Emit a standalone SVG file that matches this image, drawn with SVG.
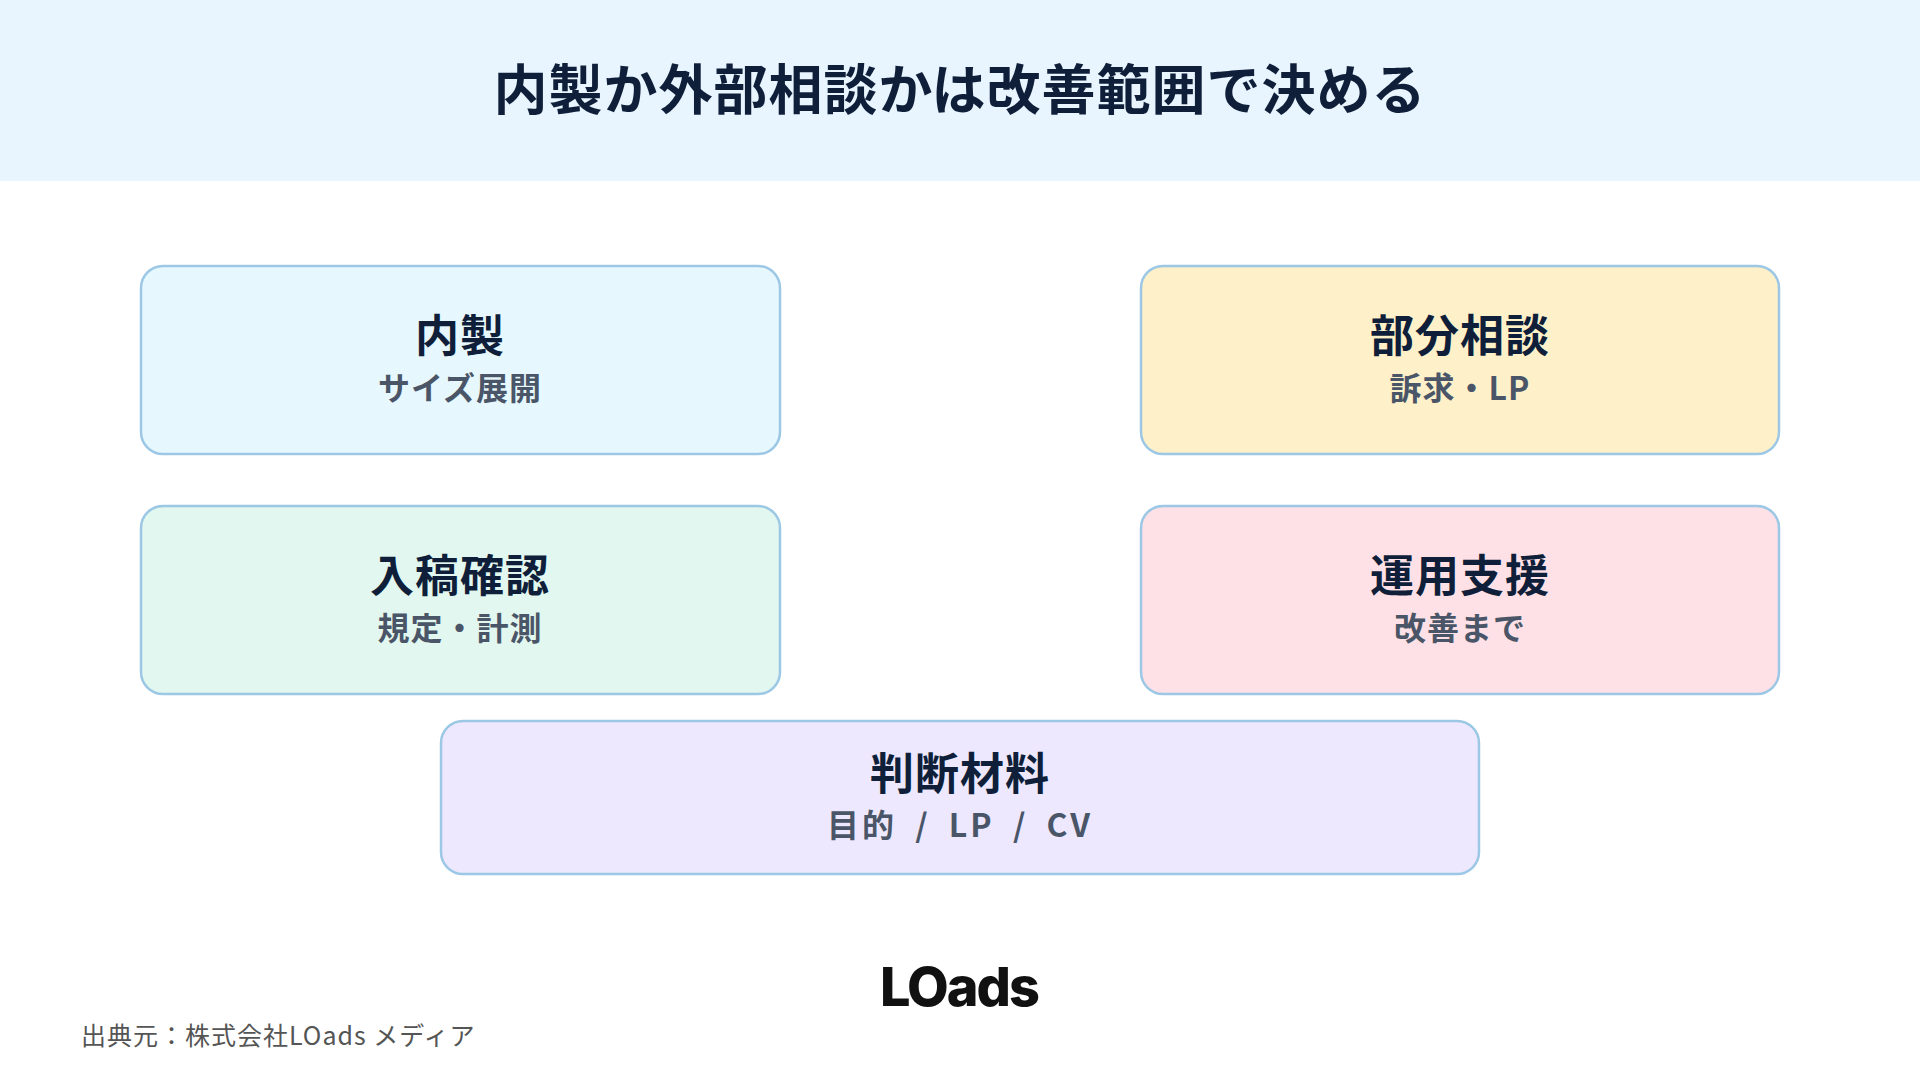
<svg xmlns="http://www.w3.org/2000/svg" width="1920" height="1080" viewBox="0 0 1920 1080">
<style>
.t{font-family:"Noto Sans CJK JP","Noto Sans",sans-serif;font-weight:700;text-anchor:middle}
.h{fill:#0f1f3a;font-size:44px;letter-spacing:1px}
.s{fill:#4a5668;font-size:32px;letter-spacing:1px}
.b{stroke:#9cc8e6;stroke-width:2.5}
</style>
<rect width="1920" height="1080" fill="#ffffff"/>
<rect width="1920" height="181" fill="#e8f5fe"/>
<text class="t" x="960" y="110" style="font-size:54px;fill:#0f1f3a;letter-spacing:1px">内製か外部相談かは改善範囲で決める</text>
<g id="n1"><rect class="b" x="141" y="266" width="639" height="188" rx="22" fill="#e6f8fe"/><text class="t h" x="460" y="352">内製</text><text class="t s" x="460" y="400">サイズ展開</text></g>
<g id="n2"><rect class="b" x="1141" y="266" width="638" height="188" rx="22" fill="#fef0c8"/><text class="t h" x="1460" y="352">部分相談</text><text class="t s" x="1460" y="400">訴求・LP</text></g>
<g id="n3"><rect class="b" x="141" y="506" width="639" height="188" rx="22" fill="#e2f7ef"/><text class="t h" x="460" y="592">入稿確認</text><text class="t s" x="460" y="640">規定・計測</text></g>
<g id="n4"><rect class="b" x="1141" y="506" width="638" height="188" rx="22" fill="#fee1e6"/><text class="t h" x="1460" y="592">運用支援</text><text class="t s" x="1460" y="640">改善まで</text></g>
<g id="n5"><rect class="b" x="441" y="721" width="1038" height="153" rx="22" fill="#ede8fe"/><text class="t h" x="960" y="790">判断材料</text><text class="t s" x="960" y="837" style="letter-spacing:3px;word-spacing:8px">目的 / LP / CV</text></g>
<g id="connectors"></g>
<text x="959" y="1006" style="font-family:Inter,'Liberation Sans',sans-serif;font-weight:800;font-size:54px;fill:#111;text-anchor:middle;letter-spacing:-2px">LOads</text>
<text x="81" y="1045" style="font-family:'Noto Sans CJK JP',sans-serif;font-size:25px;fill:#555;letter-spacing:1px">出典元：株式会社LOads メディア</text>
</svg>
